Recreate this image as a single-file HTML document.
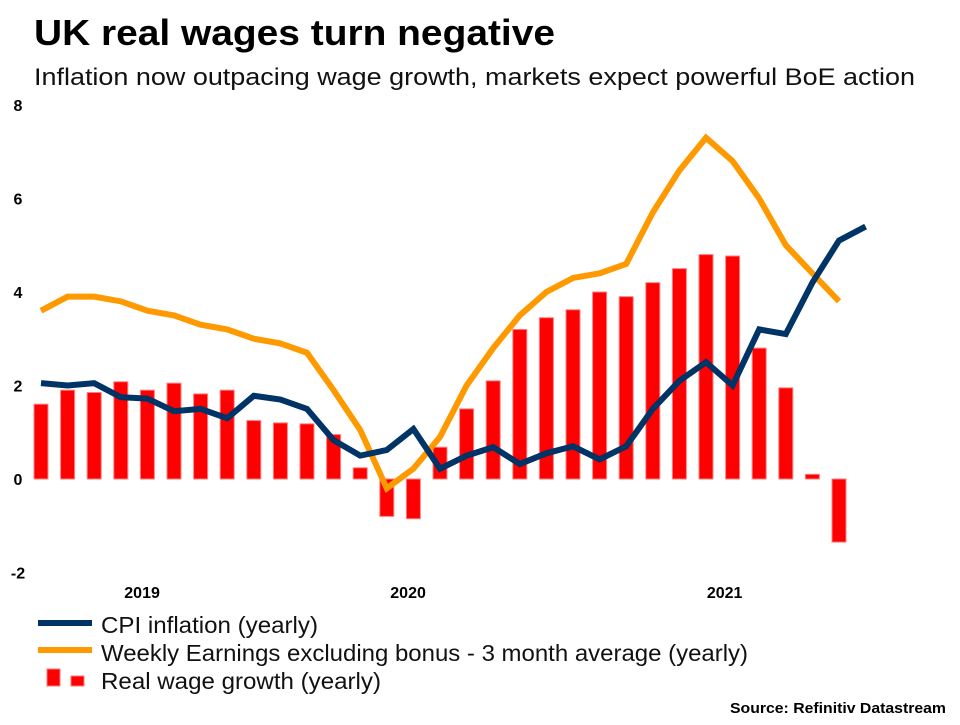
<!DOCTYPE html>
<html><head><meta charset="utf-8"><style>
body{margin:0;background:#fff;width:960px;height:720px;overflow:hidden;font-family:"Liberation Sans",sans-serif}
</style></head><body>
<svg width="960" height="720" id="c" font-family="Liberation Sans, sans-serif">
<text x="34" y="45" font-size="36" font-weight="bold" fill="#000" textLength="521" lengthAdjust="spacingAndGlyphs">UK real wages turn negative</text>
<text x="34" y="85" font-size="24" fill="#111" textLength="881" lengthAdjust="spacingAndGlyphs">Inflation now outpacing wage growth, markets expect powerful BoE action</text>
<g id="yax"></g>
<g id="xax"></g>
<g id="bars"></g>
<g id="lines"></g>
<g>
<line x1="38" y1="623" x2="92" y2="623" stroke="#003366" stroke-width="6"/>
<text x="101" y="633" font-size="23" fill="#111" textLength="217" lengthAdjust="spacingAndGlyphs">CPI inflation (yearly)</text>
<line x1="38" y1="650" x2="92" y2="650" stroke="#ff9900" stroke-width="6"/>
<text x="101" y="661" font-size="23" fill="#111" textLength="647" lengthAdjust="spacingAndGlyphs">Weekly Earnings excluding bonus - 3 month average (yearly)</text>
<rect x="47" y="669" width="13" height="17" fill="#ff0000" stroke="#ff7777"/>
<rect x="71" y="676" width="13" height="10" fill="#ff0000" stroke="#ff7777"/>
<text x="101" y="689" font-size="23" fill="#111" textLength="280" lengthAdjust="spacingAndGlyphs">Real wage growth (yearly)</text>
</g>
<text x="730" y="713" font-size="15" font-weight="bold" fill="#000" textLength="216" lengthAdjust="spacingAndGlyphs">Source: Refinitiv Datastream</text>
</svg>
<script>
const yTicks=[8,6,4,2,0,-2];
const yTickLabels=["8","6","4","2","0","-2"];
const xLabels=["2019","2020","2021"];
const xLabelIdx=[3.8,13.8,25.7];
const realWage=[1.6,1.9,1.85,2.08,1.9,2.05,1.82,1.9,1.25,1.2,1.18,0.95,0.24,-0.8,-0.85,0.68,1.5,2.1,3.2,3.45,3.62,4.0,3.9,4.2,4.5,4.8,4.77,2.8,1.95,0.1,-1.35];
const cpi=[2.05,2.0,2.05,1.75,1.72,1.45,1.5,1.3,1.78,1.7,1.5,0.83,0.5,0.62,1.07,0.22,0.5,0.68,0.32,0.55,0.7,0.42,0.7,1.5,2.1,2.5,2.0,3.2,3.1,4.2,5.1,5.4];
const earnings=[3.6,3.9,3.9,3.8,3.6,3.5,3.3,3.2,3.0,2.9,2.7,1.9,1.05,-0.2,0.22,0.9,2.0,2.8,3.5,4.0,4.3,4.4,4.6,5.7,6.6,7.3,6.8,6.0,5.0,4.4,3.8];
const NS="http://www.w3.org/2000/svg";
const xs=i=>41+26.6*i;
const ys=v=>479-46.75*v;
function mk(t,a,p){const e=document.createElementNS(NS,t);for(const k in a)e.setAttribute(k,a[k]);p.appendChild(e);return e;}
const yax=document.getElementById('yax');
yTicks.forEach((v,i)=>{const t=mk('text',{x:18,y:ys(v)+6,'font-size':16,'font-weight':'bold','text-anchor':'middle'},yax);t.textContent=yTickLabels[i];

});
const xax=document.getElementById('xax');
xLabels.forEach((l,i)=>{const t=mk('text',{x:xs(xLabelIdx[i]),y:598,'font-size':16,'font-weight':'bold','text-anchor':'middle'},xax);t.textContent=l;

});
const bars=document.getElementById('bars');
realWage.forEach((v,i)=>{const y0=ys(0),y1=ys(v);const r=mk('rect',{x:xs(i)-7,y:Math.min(y0,y1),width:14,height:Math.abs(y1-y0),fill:'#ff0000',stroke:'#ff8080','stroke-width':1},bars);

});
const lines=document.getElementById('lines');
const pe=mk('polyline',{points:earnings.map((v,i)=>xs(i)+','+ys(v)).join(' '),fill:'none',stroke:'#ff9900','stroke-width':6,'stroke-linejoin':'miter'},lines);


const pc=mk('polyline',{points:cpi.map((v,i)=>xs(i)+','+ys(v)).join(' '),fill:'none',stroke:'#003366','stroke-width':6,'stroke-linejoin':'miter'},lines);


</script>
</body></html>
